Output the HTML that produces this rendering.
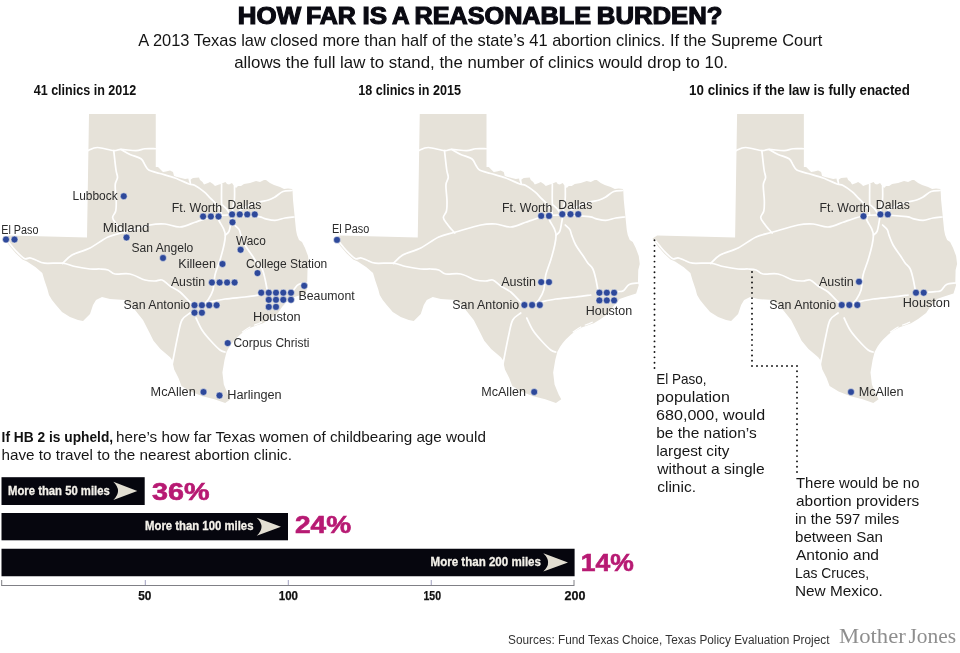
<!DOCTYPE html>
<html><head><meta charset="utf-8">
<style>
html,body{margin:0;padding:0;background:#fff;}
body{width:960px;height:653px;overflow:hidden;position:relative;}
svg{position:absolute;left:0;top:0;will-change:transform;}
</style></head><body>
<svg width="960" height="653" viewBox="0 0 960 653">
<g transform="translate(0,0)">
<path d="M89,114 L155.75,114 L155.75,167 L158,167 L160,169 L163,172 L166,171.5 L170,170.5 L173,172 L174,176 L177,177 L181,178 L185,179 L188.5,178.5 L189,182 L190,180 L193,178 L199,177.5 L200,180 L202.5,182 L204,184.5 L208,183 L210,182 L213,184 L215,186 L219,184.5 L221,184 L223,183 L225.5,182 L227,184 L229,184.5 L232,183 L234,186 L236,188 L238,186 L241,186 L244,184 L250,183 L256,181 L260,182 L264,180 L266,180 L270,183 L274,185 L280,187 L284,189 L288,188.5 L292,189 L292.5,190 L293,200 L294.5,215 L296,230 L297,235 L299,240 L302,242 L305,248 L308,256 L309,264 L307.5,270 L307.2,283 L308,285 L306.5,290 L305.4,293.5 L296,296.5 L288.8,299 L287,301.5 L282,307 L278,313 L270,319 L263,323.3 L251.5,327.2 L244.6,331 L240,334.8 L235,339.5 L232,343 L229.5,346.5 L226.6,351.7 L224.5,360 L222.4,372.4 L223.8,384.5 L227.9,394.4 L230.5,399.2 L225.2,403 L214.5,399.2 L202.5,396.3 L190.5,391.5 L181.5,386 L178.5,378 L174.2,369.6 L172.1,360 L170.1,357.2 L160.4,348.9 L153.5,340.7 L149.4,332.4 L143,320 L135,310 L125,300 L110,299 L102,297 L96,300 L93,305 L90,314 L83,321 L78,320 L70,317 L62,312 L56,305 L52,300 L49,295 L47.4,289 L44.5,280.4 L42.3,273 L35.7,267.3 L27,261.5 L22.5,259.5 L16,253.5 L10,246.5 L4.5,238.5 L9,235.5 L87,237.5 L89,114Z" fill="#e6e2d9"/>
<path d="M88,150.6 C89.58,150.08 93.21,147.50 97.5,147.5 C101.79,147.50 109.83,150.28 113.75,150.6 C117.67,150.92 117.29,149.40 121,149.4 C124.71,149.40 132.00,150.71 136,150.6 C140.00,150.49 141.71,149.06 145,148.75 C148.29,148.44 153.96,148.75 155.75,148.75" fill="none" stroke="#fff" stroke-width="1.7" stroke-linejoin="round" stroke-linecap="round"/>
<path d="M113.75,150.6 C114.12,153.83 115.38,165.52 116,170 C116.62,174.48 117.63,175.00 117.5,177.5 C117.37,180.00 115.41,181.12 115.2,185 C114.99,188.88 116.17,196.47 116.25,200.8 C116.33,205.13 116.31,208.22 115.7,211 C115.09,213.78 112.51,215.38 112.6,217.5 C112.69,219.62 114.95,221.83 116.25,223.75 C117.55,225.67 119.11,227.46 120.4,229 C121.69,230.54 123.40,232.33 124,233" fill="none" stroke="#fff" stroke-width="1.7" stroke-linejoin="round" stroke-linecap="round"/>
<path d="M121,149.4 C122.50,150.23 126.67,152.84 130,154.4 C133.33,155.96 138.50,156.98 141,158.75 C143.50,160.52 143.71,163.12 145,165 C146.29,166.88 146.25,168.58 148.75,170 C151.25,171.42 155.62,172.17 160,173.5 C164.38,174.83 170.17,176.25 175,178 C179.83,179.75 185.67,182.75 189,184 C192.33,185.25 192.47,184.18 195,185.5 C197.53,186.82 201.60,189.75 204.2,191.9 C206.80,194.05 208.62,196.40 210.6,198.4 C212.58,200.40 214.42,201.92 216.1,203.9 C217.78,205.88 219.80,208.45 220.7,210.3 C221.60,212.15 221.37,214.22 221.5,215" fill="none" stroke="#fff" stroke-width="1.7" stroke-linejoin="round" stroke-linecap="round"/>
<path d="M189.5,178.5 L190.5,184.2" fill="none" stroke="#fff" stroke-width="1.7" stroke-linejoin="round" stroke-linecap="round"/>
<path d="M6.6,239.6 C7.57,240.82 10.45,244.60 12.4,246.9 C14.35,249.20 16.23,251.42 18.3,253.4 C20.37,255.38 22.87,258.07 24.8,258.8 C26.73,259.53 28.07,257.60 29.9,257.8 C31.72,258.00 33.32,259.10 35.75,260 C38.18,260.90 40.04,262.67 44.5,263.2 C48.96,263.73 57.42,262.65 62.5,263.2 C67.58,263.75 70.42,265.53 75,266.5 C79.58,267.47 85.83,268.58 90,269 C94.17,269.42 97.00,268.83 100,269 C103.00,269.17 105.50,269.17 108,270 C110.50,270.83 111.33,273.33 115,274 C118.67,274.67 125.00,273.00 130,274 C135.00,275.00 140.83,278.83 145,280 C149.17,281.17 152.17,281.00 155,281 C157.83,281.00 159.50,279.17 162,280 C164.50,280.83 167.00,284.00 170,286 C173.00,288.00 176.67,289.33 180,292 C183.33,294.67 187.33,299.67 190,302 C192.67,304.33 195.00,305.33 196,306" fill="none" stroke="#fff" stroke-width="1.7" stroke-linejoin="round" stroke-linecap="round"/>
<path d="M62.5,263.5 C64.08,262.08 67.42,257.58 72,255 C76.58,252.42 84.00,251.00 90,248 C96.00,245.00 102.17,239.67 108,237 C113.83,234.33 118.00,234.00 125,232 C132.00,230.00 143.33,226.33 150,225 C156.67,223.67 160.00,223.67 165,224 C170.00,224.33 175.00,227.30 180,227 C185.00,226.70 191.58,223.30 195,222.2 C198.42,221.10 197.17,221.43 200.5,220.4 C203.83,219.37 209.75,216.90 215,216 C220.25,215.10 224.77,214.88 232,215 C239.23,215.12 252.93,216.10 258.4,216.7 C263.87,217.30 262.03,217.98 264.8,218.6 C267.57,219.22 271.63,220.50 275,220.4 C278.37,220.30 281.83,218.57 285,218 C288.17,217.43 292.50,217.17 294,217" fill="none" stroke="#fff" stroke-width="1.7" stroke-linejoin="round" stroke-linecap="round"/>
<path d="M221.6,184 C221.60,187.17 221.37,199.42 221.6,203 C221.83,206.58 222.10,204.43 223,205.5 C223.90,206.57 225.83,207.98 227,209.4 C228.17,210.82 229.50,213.23 230,214" fill="none" stroke="#fff" stroke-width="1.7" stroke-linejoin="round" stroke-linecap="round"/>
<path d="M234.5,186 C234.50,188.07 234.75,194.90 234.5,198.4 C234.25,201.90 233.35,204.73 233,207 C232.65,209.27 232.50,211.17 232.4,212" fill="none" stroke="#fff" stroke-width="1.7" stroke-linejoin="round" stroke-linecap="round"/>
<path d="M240,210 C241.67,209.17 246.78,206.33 250,205 C253.22,203.67 256.22,202.83 259.3,202 C262.38,201.17 265.88,200.83 268.5,200 C271.12,199.17 272.58,198.42 275,197 C277.42,195.58 280.17,192.58 283,191.5 C285.83,190.42 290.50,190.67 292,190.5" fill="none" stroke="#fff" stroke-width="1.7" stroke-linejoin="round" stroke-linecap="round"/>
<path d="M218.9,216 C218.90,216.73 218.13,218.28 218.9,220.4 C219.67,222.52 222.43,226.25 223.5,228.7 C224.57,231.15 225.22,232.38 225.3,235.1 C225.38,237.82 224.88,240.85 224,245 C223.12,249.15 221.50,255.00 220,260 C218.50,265.00 216.17,270.00 215,275 C213.83,280.00 214.17,285.83 213,290 C211.83,294.17 209.67,297.50 208,300 C206.33,302.50 203.83,304.17 203,305" fill="none" stroke="#fff" stroke-width="1.7" stroke-linejoin="round" stroke-linecap="round"/>
<path d="M232,216 C231.80,217.20 231.30,220.63 230.8,223.2 C230.30,225.77 229.92,229.42 229,231.4 C228.08,233.38 225.92,234.48 225.3,235.1" fill="none" stroke="#fff" stroke-width="1.7" stroke-linejoin="round" stroke-linecap="round"/>
<path d="M234.5,225 C235.27,225.77 238.03,227.92 239.1,229.6 C240.17,231.28 239.92,232.53 240.9,235.1 C241.88,237.67 243.07,241.52 245,245 C246.93,248.48 250.50,253.00 252.5,256 C254.50,259.00 255.42,260.88 257,263 C258.58,265.12 260.67,266.12 262,268.75 C263.33,271.38 264.08,274.88 265,278.75 C265.92,282.62 267.08,289.79 267.5,292" fill="none" stroke="#fff" stroke-width="1.7" stroke-linejoin="round" stroke-linecap="round"/>
<path d="M260,295 C257.50,295.33 250.83,296.33 245,297 C239.17,297.67 230.83,298.17 225,299 C219.17,299.83 212.50,301.50 210,302" fill="none" stroke="#fff" stroke-width="1.7" stroke-linejoin="round" stroke-linecap="round"/>
<path d="M280.4,292.2 C281.50,292.10 284.97,291.85 287,291.6 C289.03,291.35 290.68,291.88 292.6,290.7 C294.52,289.52 296.02,285.78 298.5,284.5 C300.98,283.22 306.00,283.25 307.5,283" fill="none" stroke="#fff" stroke-width="1.7" stroke-linejoin="round" stroke-linecap="round"/>
<path d="M196,318 C197.00,320.00 199.67,326.33 202,330 C204.33,333.67 207.00,336.67 210,340 C213.00,343.33 217.50,348.00 220,350 C222.50,352.00 224.17,351.67 225,352" fill="none" stroke="#fff" stroke-width="1.7" stroke-linejoin="round" stroke-linecap="round"/>
<path d="M190,313 C188.67,314.17 184.00,316.33 182,320 C180.00,323.67 179.50,328.33 178,335 C176.50,341.67 174.17,354.17 173,360 C171.83,365.83 171.33,368.33 171,370" fill="none" stroke="#fff" stroke-width="1.7" stroke-linejoin="round" stroke-linecap="round"/>
<path d="M242,332.2 L247.5,328.6 L250.5,326.8 M254,325.2 L258.5,323.6 L262,322" fill="none" stroke="#fff" stroke-width="1.2"/>
</g>
<g transform="translate(330.75,0)">
<path d="M89,114 L155.75,114 L155.75,167 L158,167 L160,169 L163,172 L166,171.5 L170,170.5 L173,172 L174,176 L177,177 L181,178 L185,179 L188.5,178.5 L189,182 L190,180 L193,178 L199,177.5 L200,180 L202.5,182 L204,184.5 L208,183 L210,182 L213,184 L215,186 L219,184.5 L221,184 L223,183 L225.5,182 L227,184 L229,184.5 L232,183 L234,186 L236,188 L238,186 L241,186 L244,184 L250,183 L256,181 L260,182 L264,180 L266,180 L270,183 L274,185 L280,187 L284,189 L288,188.5 L292,189 L292.5,190 L293,200 L294.5,215 L296,230 L297,235 L299,240 L302,242 L305,248 L308,256 L309,264 L307.5,270 L307.2,283 L308,285 L306.5,290 L305.4,293.5 L296,296.5 L288.8,299 L287,301.5 L282,307 L278,313 L270,319 L263,323.3 L251.5,327.2 L244.6,331 L240,334.8 L235,339.5 L232,343 L229.5,346.5 L226.6,351.7 L224.5,360 L222.4,372.4 L223.8,384.5 L227.9,394.4 L230.5,399.2 L225.2,403 L214.5,399.2 L202.5,396.3 L190.5,391.5 L181.5,386 L178.5,378 L174.2,369.6 L172.1,360 L170.1,357.2 L160.4,348.9 L153.5,340.7 L149.4,332.4 L143,320 L135,310 L125,300 L110,299 L102,297 L96,300 L93,305 L90,314 L83,321 L78,320 L70,317 L62,312 L56,305 L52,300 L49,295 L47.4,289 L44.5,280.4 L42.3,273 L35.7,267.3 L27,261.5 L22.5,259.5 L16,253.5 L10,246.5 L4.5,238.5 L9,235.5 L87,237.5 L89,114Z" fill="#e6e2d9"/>
<path d="M88,150.6 C89.58,150.08 93.21,147.50 97.5,147.5 C101.79,147.50 109.83,150.28 113.75,150.6 C117.67,150.92 117.29,149.40 121,149.4 C124.71,149.40 132.00,150.71 136,150.6 C140.00,150.49 141.71,149.06 145,148.75 C148.29,148.44 153.96,148.75 155.75,148.75" fill="none" stroke="#fff" stroke-width="1.7" stroke-linejoin="round" stroke-linecap="round"/>
<path d="M113.75,150.6 C114.12,153.83 115.38,165.52 116,170 C116.62,174.48 117.63,175.00 117.5,177.5 C117.37,180.00 115.41,181.12 115.2,185 C114.99,188.88 116.17,196.47 116.25,200.8 C116.33,205.13 116.31,208.22 115.7,211 C115.09,213.78 112.51,215.38 112.6,217.5 C112.69,219.62 114.95,221.83 116.25,223.75 C117.55,225.67 119.11,227.46 120.4,229 C121.69,230.54 123.40,232.33 124,233" fill="none" stroke="#fff" stroke-width="1.7" stroke-linejoin="round" stroke-linecap="round"/>
<path d="M121,149.4 C122.50,150.23 126.67,152.84 130,154.4 C133.33,155.96 138.50,156.98 141,158.75 C143.50,160.52 143.71,163.12 145,165 C146.29,166.88 146.25,168.58 148.75,170 C151.25,171.42 155.62,172.17 160,173.5 C164.38,174.83 170.17,176.25 175,178 C179.83,179.75 185.67,182.75 189,184 C192.33,185.25 192.47,184.18 195,185.5 C197.53,186.82 201.60,189.75 204.2,191.9 C206.80,194.05 208.62,196.40 210.6,198.4 C212.58,200.40 214.42,201.92 216.1,203.9 C217.78,205.88 219.80,208.45 220.7,210.3 C221.60,212.15 221.37,214.22 221.5,215" fill="none" stroke="#fff" stroke-width="1.7" stroke-linejoin="round" stroke-linecap="round"/>
<path d="M189.5,178.5 L190.5,184.2" fill="none" stroke="#fff" stroke-width="1.7" stroke-linejoin="round" stroke-linecap="round"/>
<path d="M6.6,239.6 C7.57,240.82 10.45,244.60 12.4,246.9 C14.35,249.20 16.23,251.42 18.3,253.4 C20.37,255.38 22.87,258.07 24.8,258.8 C26.73,259.53 28.07,257.60 29.9,257.8 C31.72,258.00 33.32,259.10 35.75,260 C38.18,260.90 40.04,262.67 44.5,263.2 C48.96,263.73 57.42,262.65 62.5,263.2 C67.58,263.75 70.42,265.53 75,266.5 C79.58,267.47 85.83,268.58 90,269 C94.17,269.42 97.00,268.83 100,269 C103.00,269.17 105.50,269.17 108,270 C110.50,270.83 111.33,273.33 115,274 C118.67,274.67 125.00,273.00 130,274 C135.00,275.00 140.83,278.83 145,280 C149.17,281.17 152.17,281.00 155,281 C157.83,281.00 159.50,279.17 162,280 C164.50,280.83 167.00,284.00 170,286 C173.00,288.00 176.67,289.33 180,292 C183.33,294.67 187.33,299.67 190,302 C192.67,304.33 195.00,305.33 196,306" fill="none" stroke="#fff" stroke-width="1.7" stroke-linejoin="round" stroke-linecap="round"/>
<path d="M62.5,263.5 C64.08,262.08 67.42,257.58 72,255 C76.58,252.42 84.00,251.00 90,248 C96.00,245.00 102.17,239.67 108,237 C113.83,234.33 118.00,234.00 125,232 C132.00,230.00 143.33,226.33 150,225 C156.67,223.67 160.00,223.67 165,224 C170.00,224.33 175.00,227.30 180,227 C185.00,226.70 191.58,223.30 195,222.2 C198.42,221.10 197.17,221.43 200.5,220.4 C203.83,219.37 209.75,216.90 215,216 C220.25,215.10 224.77,214.88 232,215 C239.23,215.12 252.93,216.10 258.4,216.7 C263.87,217.30 262.03,217.98 264.8,218.6 C267.57,219.22 271.63,220.50 275,220.4 C278.37,220.30 281.83,218.57 285,218 C288.17,217.43 292.50,217.17 294,217" fill="none" stroke="#fff" stroke-width="1.7" stroke-linejoin="round" stroke-linecap="round"/>
<path d="M221.6,184 C221.60,187.17 221.37,199.42 221.6,203 C221.83,206.58 222.10,204.43 223,205.5 C223.90,206.57 225.83,207.98 227,209.4 C228.17,210.82 229.50,213.23 230,214" fill="none" stroke="#fff" stroke-width="1.7" stroke-linejoin="round" stroke-linecap="round"/>
<path d="M234.5,186 C234.50,188.07 234.75,194.90 234.5,198.4 C234.25,201.90 233.35,204.73 233,207 C232.65,209.27 232.50,211.17 232.4,212" fill="none" stroke="#fff" stroke-width="1.7" stroke-linejoin="round" stroke-linecap="round"/>
<path d="M240,210 C241.67,209.17 246.78,206.33 250,205 C253.22,203.67 256.22,202.83 259.3,202 C262.38,201.17 265.88,200.83 268.5,200 C271.12,199.17 272.58,198.42 275,197 C277.42,195.58 280.17,192.58 283,191.5 C285.83,190.42 290.50,190.67 292,190.5" fill="none" stroke="#fff" stroke-width="1.7" stroke-linejoin="round" stroke-linecap="round"/>
<path d="M218.9,216 C218.90,216.73 218.13,218.28 218.9,220.4 C219.67,222.52 222.43,226.25 223.5,228.7 C224.57,231.15 225.22,232.38 225.3,235.1 C225.38,237.82 224.88,240.85 224,245 C223.12,249.15 221.50,255.00 220,260 C218.50,265.00 216.17,270.00 215,275 C213.83,280.00 214.17,285.83 213,290 C211.83,294.17 209.67,297.50 208,300 C206.33,302.50 203.83,304.17 203,305" fill="none" stroke="#fff" stroke-width="1.7" stroke-linejoin="round" stroke-linecap="round"/>
<path d="M232,216 C231.80,217.20 231.30,220.63 230.8,223.2 C230.30,225.77 229.92,229.42 229,231.4 C228.08,233.38 225.92,234.48 225.3,235.1" fill="none" stroke="#fff" stroke-width="1.7" stroke-linejoin="round" stroke-linecap="round"/>
<path d="M234.5,225 C235.27,225.77 238.03,227.92 239.1,229.6 C240.17,231.28 239.92,232.53 240.9,235.1 C241.88,237.67 243.07,241.52 245,245 C246.93,248.48 250.50,253.00 252.5,256 C254.50,259.00 255.42,260.88 257,263 C258.58,265.12 260.67,266.12 262,268.75 C263.33,271.38 264.08,274.88 265,278.75 C265.92,282.62 267.08,289.79 267.5,292" fill="none" stroke="#fff" stroke-width="1.7" stroke-linejoin="round" stroke-linecap="round"/>
<path d="M260,295 C257.50,295.33 250.83,296.33 245,297 C239.17,297.67 230.83,298.17 225,299 C219.17,299.83 212.50,301.50 210,302" fill="none" stroke="#fff" stroke-width="1.7" stroke-linejoin="round" stroke-linecap="round"/>
<path d="M280.4,292.2 C281.50,292.10 284.97,291.85 287,291.6 C289.03,291.35 290.68,291.88 292.6,290.7 C294.52,289.52 296.02,285.78 298.5,284.5 C300.98,283.22 306.00,283.25 307.5,283" fill="none" stroke="#fff" stroke-width="1.7" stroke-linejoin="round" stroke-linecap="round"/>
<path d="M196,318 C197.00,320.00 199.67,326.33 202,330 C204.33,333.67 207.00,336.67 210,340 C213.00,343.33 217.50,348.00 220,350 C222.50,352.00 224.17,351.67 225,352" fill="none" stroke="#fff" stroke-width="1.7" stroke-linejoin="round" stroke-linecap="round"/>
<path d="M190,313 C188.67,314.17 184.00,316.33 182,320 C180.00,323.67 179.50,328.33 178,335 C176.50,341.67 174.17,354.17 173,360 C171.83,365.83 171.33,368.33 171,370" fill="none" stroke="#fff" stroke-width="1.7" stroke-linejoin="round" stroke-linecap="round"/>
<path d="M242,332.2 L247.5,328.6 L250.5,326.8 M254,325.2 L258.5,323.6 L262,322" fill="none" stroke="#fff" stroke-width="1.2"/>
</g>
<g transform="translate(648.1,0)">
<path d="M89,114 L155.75,114 L155.75,167 L158,167 L160,169 L163,172 L166,171.5 L170,170.5 L173,172 L174,176 L177,177 L181,178 L185,179 L188.5,178.5 L189,182 L190,180 L193,178 L199,177.5 L200,180 L202.5,182 L204,184.5 L208,183 L210,182 L213,184 L215,186 L219,184.5 L221,184 L223,183 L225.5,182 L227,184 L229,184.5 L232,183 L234,186 L236,188 L238,186 L241,186 L244,184 L250,183 L256,181 L260,182 L264,180 L266,180 L270,183 L274,185 L280,187 L284,189 L288,188.5 L292,189 L292.5,190 L293,200 L294.5,215 L296,230 L297,235 L299,240 L302,242 L305,248 L308,256 L309,264 L307.5,270 L307.2,283 L308,285 L306.5,290 L305.4,293.5 L296,296.5 L288.8,299 L287,301.5 L282,307 L278,313 L270,319 L263,323.3 L251.5,327.2 L244.6,331 L240,334.8 L235,339.5 L232,343 L229.5,346.5 L226.6,351.7 L224.5,360 L222.4,372.4 L223.8,384.5 L227.9,394.4 L230.5,399.2 L225.2,403 L214.5,399.2 L202.5,396.3 L190.5,391.5 L181.5,386 L178.5,378 L174.2,369.6 L172.1,360 L170.1,357.2 L160.4,348.9 L153.5,340.7 L149.4,332.4 L143,320 L135,310 L125,300 L110,299 L102,297 L96,300 L93,305 L90,314 L83,321 L78,320 L70,317 L62,312 L56,305 L52,300 L49,295 L47.4,289 L44.5,280.4 L42.3,273 L35.7,267.3 L27,261.5 L22.5,259.5 L16,253.5 L10,246.5 L4.5,238.5 L9,235.5 L87,237.5 L89,114Z" fill="#e6e2d9"/>
<path d="M88,150.6 C89.58,150.08 93.21,147.50 97.5,147.5 C101.79,147.50 109.83,150.28 113.75,150.6 C117.67,150.92 117.29,149.40 121,149.4 C124.71,149.40 132.00,150.71 136,150.6 C140.00,150.49 141.71,149.06 145,148.75 C148.29,148.44 153.96,148.75 155.75,148.75" fill="none" stroke="#fff" stroke-width="1.7" stroke-linejoin="round" stroke-linecap="round"/>
<path d="M113.75,150.6 C114.12,153.83 115.38,165.52 116,170 C116.62,174.48 117.63,175.00 117.5,177.5 C117.37,180.00 115.41,181.12 115.2,185 C114.99,188.88 116.17,196.47 116.25,200.8 C116.33,205.13 116.31,208.22 115.7,211 C115.09,213.78 112.51,215.38 112.6,217.5 C112.69,219.62 114.95,221.83 116.25,223.75 C117.55,225.67 119.11,227.46 120.4,229 C121.69,230.54 123.40,232.33 124,233" fill="none" stroke="#fff" stroke-width="1.7" stroke-linejoin="round" stroke-linecap="round"/>
<path d="M121,149.4 C122.50,150.23 126.67,152.84 130,154.4 C133.33,155.96 138.50,156.98 141,158.75 C143.50,160.52 143.71,163.12 145,165 C146.29,166.88 146.25,168.58 148.75,170 C151.25,171.42 155.62,172.17 160,173.5 C164.38,174.83 170.17,176.25 175,178 C179.83,179.75 185.67,182.75 189,184 C192.33,185.25 192.47,184.18 195,185.5 C197.53,186.82 201.60,189.75 204.2,191.9 C206.80,194.05 208.62,196.40 210.6,198.4 C212.58,200.40 214.42,201.92 216.1,203.9 C217.78,205.88 219.80,208.45 220.7,210.3 C221.60,212.15 221.37,214.22 221.5,215" fill="none" stroke="#fff" stroke-width="1.7" stroke-linejoin="round" stroke-linecap="round"/>
<path d="M189.5,178.5 L190.5,184.2" fill="none" stroke="#fff" stroke-width="1.7" stroke-linejoin="round" stroke-linecap="round"/>
<path d="M6.6,239.6 C7.57,240.82 10.45,244.60 12.4,246.9 C14.35,249.20 16.23,251.42 18.3,253.4 C20.37,255.38 22.87,258.07 24.8,258.8 C26.73,259.53 28.07,257.60 29.9,257.8 C31.72,258.00 33.32,259.10 35.75,260 C38.18,260.90 40.04,262.67 44.5,263.2 C48.96,263.73 57.42,262.65 62.5,263.2 C67.58,263.75 70.42,265.53 75,266.5 C79.58,267.47 85.83,268.58 90,269 C94.17,269.42 97.00,268.83 100,269 C103.00,269.17 105.50,269.17 108,270 C110.50,270.83 111.33,273.33 115,274 C118.67,274.67 125.00,273.00 130,274 C135.00,275.00 140.83,278.83 145,280 C149.17,281.17 152.17,281.00 155,281 C157.83,281.00 159.50,279.17 162,280 C164.50,280.83 167.00,284.00 170,286 C173.00,288.00 176.67,289.33 180,292 C183.33,294.67 187.33,299.67 190,302 C192.67,304.33 195.00,305.33 196,306" fill="none" stroke="#fff" stroke-width="1.7" stroke-linejoin="round" stroke-linecap="round"/>
<path d="M62.5,263.5 C64.08,262.08 67.42,257.58 72,255 C76.58,252.42 84.00,251.00 90,248 C96.00,245.00 102.17,239.67 108,237 C113.83,234.33 118.00,234.00 125,232 C132.00,230.00 143.33,226.33 150,225 C156.67,223.67 160.00,223.67 165,224 C170.00,224.33 175.00,227.30 180,227 C185.00,226.70 191.58,223.30 195,222.2 C198.42,221.10 197.17,221.43 200.5,220.4 C203.83,219.37 209.75,216.90 215,216 C220.25,215.10 224.77,214.88 232,215 C239.23,215.12 252.93,216.10 258.4,216.7 C263.87,217.30 262.03,217.98 264.8,218.6 C267.57,219.22 271.63,220.50 275,220.4 C278.37,220.30 281.83,218.57 285,218 C288.17,217.43 292.50,217.17 294,217" fill="none" stroke="#fff" stroke-width="1.7" stroke-linejoin="round" stroke-linecap="round"/>
<path d="M221.6,184 C221.60,187.17 221.37,199.42 221.6,203 C221.83,206.58 222.10,204.43 223,205.5 C223.90,206.57 225.83,207.98 227,209.4 C228.17,210.82 229.50,213.23 230,214" fill="none" stroke="#fff" stroke-width="1.7" stroke-linejoin="round" stroke-linecap="round"/>
<path d="M234.5,186 C234.50,188.07 234.75,194.90 234.5,198.4 C234.25,201.90 233.35,204.73 233,207 C232.65,209.27 232.50,211.17 232.4,212" fill="none" stroke="#fff" stroke-width="1.7" stroke-linejoin="round" stroke-linecap="round"/>
<path d="M240,210 C241.67,209.17 246.78,206.33 250,205 C253.22,203.67 256.22,202.83 259.3,202 C262.38,201.17 265.88,200.83 268.5,200 C271.12,199.17 272.58,198.42 275,197 C277.42,195.58 280.17,192.58 283,191.5 C285.83,190.42 290.50,190.67 292,190.5" fill="none" stroke="#fff" stroke-width="1.7" stroke-linejoin="round" stroke-linecap="round"/>
<path d="M218.9,216 C218.90,216.73 218.13,218.28 218.9,220.4 C219.67,222.52 222.43,226.25 223.5,228.7 C224.57,231.15 225.22,232.38 225.3,235.1 C225.38,237.82 224.88,240.85 224,245 C223.12,249.15 221.50,255.00 220,260 C218.50,265.00 216.17,270.00 215,275 C213.83,280.00 214.17,285.83 213,290 C211.83,294.17 209.67,297.50 208,300 C206.33,302.50 203.83,304.17 203,305" fill="none" stroke="#fff" stroke-width="1.7" stroke-linejoin="round" stroke-linecap="round"/>
<path d="M232,216 C231.80,217.20 231.30,220.63 230.8,223.2 C230.30,225.77 229.92,229.42 229,231.4 C228.08,233.38 225.92,234.48 225.3,235.1" fill="none" stroke="#fff" stroke-width="1.7" stroke-linejoin="round" stroke-linecap="round"/>
<path d="M234.5,225 C235.27,225.77 238.03,227.92 239.1,229.6 C240.17,231.28 239.92,232.53 240.9,235.1 C241.88,237.67 243.07,241.52 245,245 C246.93,248.48 250.50,253.00 252.5,256 C254.50,259.00 255.42,260.88 257,263 C258.58,265.12 260.67,266.12 262,268.75 C263.33,271.38 264.08,274.88 265,278.75 C265.92,282.62 267.08,289.79 267.5,292" fill="none" stroke="#fff" stroke-width="1.7" stroke-linejoin="round" stroke-linecap="round"/>
<path d="M260,295 C257.50,295.33 250.83,296.33 245,297 C239.17,297.67 230.83,298.17 225,299 C219.17,299.83 212.50,301.50 210,302" fill="none" stroke="#fff" stroke-width="1.7" stroke-linejoin="round" stroke-linecap="round"/>
<path d="M280.4,292.2 C281.50,292.10 284.97,291.85 287,291.6 C289.03,291.35 290.68,291.88 292.6,290.7 C294.52,289.52 296.02,285.78 298.5,284.5 C300.98,283.22 306.00,283.25 307.5,283" fill="none" stroke="#fff" stroke-width="1.7" stroke-linejoin="round" stroke-linecap="round"/>
<path d="M196,318 C197.00,320.00 199.67,326.33 202,330 C204.33,333.67 207.00,336.67 210,340 C213.00,343.33 217.50,348.00 220,350 C222.50,352.00 224.17,351.67 225,352" fill="none" stroke="#fff" stroke-width="1.7" stroke-linejoin="round" stroke-linecap="round"/>
<path d="M190,313 C188.67,314.17 184.00,316.33 182,320 C180.00,323.67 179.50,328.33 178,335 C176.50,341.67 174.17,354.17 173,360 C171.83,365.83 171.33,368.33 171,370" fill="none" stroke="#fff" stroke-width="1.7" stroke-linejoin="round" stroke-linecap="round"/>
<path d="M242,332.2 L247.5,328.6 L250.5,326.8 M254,325.2 L258.5,323.6 L262,322" fill="none" stroke="#fff" stroke-width="1.2"/>
</g>
<circle cx="6" cy="239.5" r="3.45" fill="#2e499b" stroke="#fafaf6" stroke-width="0.5"/>
<circle cx="14.5" cy="239.5" r="3.45" fill="#2e499b" stroke="#fafaf6" stroke-width="0.5"/>
<circle cx="123.75" cy="196.25" r="3.45" fill="#2e499b" stroke="#fafaf6" stroke-width="0.5"/>
<circle cx="126.5" cy="237.5" r="3.45" fill="#2e499b" stroke="#fafaf6" stroke-width="0.5"/>
<circle cx="163" cy="258" r="3.45" fill="#2e499b" stroke="#fafaf6" stroke-width="0.5"/>
<circle cx="203.1" cy="216.5" r="3.45" fill="#2e499b" stroke="#fafaf6" stroke-width="0.5"/>
<circle cx="210.9" cy="216.5" r="3.45" fill="#2e499b" stroke="#fafaf6" stroke-width="0.5"/>
<circle cx="218.5" cy="216.5" r="3.45" fill="#2e499b" stroke="#fafaf6" stroke-width="0.5"/>
<circle cx="232.1" cy="214.4" r="3.45" fill="#2e499b" stroke="#fafaf6" stroke-width="0.5"/>
<circle cx="239.75" cy="214.4" r="3.45" fill="#2e499b" stroke="#fafaf6" stroke-width="0.5"/>
<circle cx="247.25" cy="214.4" r="3.45" fill="#2e499b" stroke="#fafaf6" stroke-width="0.5"/>
<circle cx="254.75" cy="214.4" r="3.45" fill="#2e499b" stroke="#fafaf6" stroke-width="0.5"/>
<circle cx="232.5" cy="222.3" r="3.45" fill="#2e499b" stroke="#fafaf6" stroke-width="0.5"/>
<circle cx="240.6" cy="249.75" r="3.45" fill="#2e499b" stroke="#fafaf6" stroke-width="0.5"/>
<circle cx="222.5" cy="264" r="3.45" fill="#2e499b" stroke="#fafaf6" stroke-width="0.5"/>
<circle cx="257.5" cy="273.1" r="3.45" fill="#2e499b" stroke="#fafaf6" stroke-width="0.5"/>
<circle cx="211.9" cy="282.5" r="3.45" fill="#2e499b" stroke="#fafaf6" stroke-width="0.5"/>
<circle cx="219.6" cy="282.5" r="3.45" fill="#2e499b" stroke="#fafaf6" stroke-width="0.5"/>
<circle cx="227.1" cy="282.5" r="3.45" fill="#2e499b" stroke="#fafaf6" stroke-width="0.5"/>
<circle cx="234.6" cy="282.5" r="3.45" fill="#2e499b" stroke="#fafaf6" stroke-width="0.5"/>
<circle cx="261.25" cy="292.7" r="3.45" fill="#2e499b" stroke="#fafaf6" stroke-width="0.5"/>
<circle cx="268.75" cy="292.7" r="3.45" fill="#2e499b" stroke="#fafaf6" stroke-width="0.5"/>
<circle cx="276" cy="292.7" r="3.45" fill="#2e499b" stroke="#fafaf6" stroke-width="0.5"/>
<circle cx="283.3" cy="292.7" r="3.45" fill="#2e499b" stroke="#fafaf6" stroke-width="0.5"/>
<circle cx="291" cy="292.7" r="3.45" fill="#2e499b" stroke="#fafaf6" stroke-width="0.5"/>
<circle cx="268.75" cy="299.8" r="3.45" fill="#2e499b" stroke="#fafaf6" stroke-width="0.5"/>
<circle cx="276" cy="299.8" r="3.45" fill="#2e499b" stroke="#fafaf6" stroke-width="0.5"/>
<circle cx="283.3" cy="299.8" r="3.45" fill="#2e499b" stroke="#fafaf6" stroke-width="0.5"/>
<circle cx="291" cy="299.8" r="3.45" fill="#2e499b" stroke="#fafaf6" stroke-width="0.5"/>
<circle cx="268.75" cy="306.9" r="3.45" fill="#2e499b" stroke="#fafaf6" stroke-width="0.5"/>
<circle cx="276" cy="306.9" r="3.45" fill="#2e499b" stroke="#fafaf6" stroke-width="0.5"/>
<circle cx="304.2" cy="285.8" r="3.45" fill="#2e499b" stroke="#fafaf6" stroke-width="0.5"/>
<circle cx="194.5" cy="305.2" r="3.45" fill="#2e499b" stroke="#fafaf6" stroke-width="0.5"/>
<circle cx="201.9" cy="305.2" r="3.45" fill="#2e499b" stroke="#fafaf6" stroke-width="0.5"/>
<circle cx="209.2" cy="305.2" r="3.45" fill="#2e499b" stroke="#fafaf6" stroke-width="0.5"/>
<circle cx="216.6" cy="305.2" r="3.45" fill="#2e499b" stroke="#fafaf6" stroke-width="0.5"/>
<circle cx="194.5" cy="312.7" r="3.45" fill="#2e499b" stroke="#fafaf6" stroke-width="0.5"/>
<circle cx="201.9" cy="312.7" r="3.45" fill="#2e499b" stroke="#fafaf6" stroke-width="0.5"/>
<circle cx="227.7" cy="343.1" r="3.45" fill="#2e499b" stroke="#fafaf6" stroke-width="0.5"/>
<circle cx="203.5" cy="392" r="3.45" fill="#2e499b" stroke="#fafaf6" stroke-width="0.5"/>
<circle cx="219.5" cy="395.5" r="3.45" fill="#2e499b" stroke="#fafaf6" stroke-width="0.5"/>
<circle cx="337" cy="239.9" r="3.45" fill="#2e499b" stroke="#fafaf6" stroke-width="0.5"/>
<circle cx="541.2" cy="215.9" r="3.45" fill="#2e499b" stroke="#fafaf6" stroke-width="0.5"/>
<circle cx="549" cy="215.9" r="3.45" fill="#2e499b" stroke="#fafaf6" stroke-width="0.5"/>
<circle cx="562.3" cy="214.2" r="3.45" fill="#2e499b" stroke="#fafaf6" stroke-width="0.5"/>
<circle cx="570.5" cy="214.2" r="3.45" fill="#2e499b" stroke="#fafaf6" stroke-width="0.5"/>
<circle cx="578.2" cy="214.2" r="3.45" fill="#2e499b" stroke="#fafaf6" stroke-width="0.5"/>
<circle cx="541.2" cy="282.1" r="3.45" fill="#2e499b" stroke="#fafaf6" stroke-width="0.5"/>
<circle cx="549" cy="282.1" r="3.45" fill="#2e499b" stroke="#fafaf6" stroke-width="0.5"/>
<circle cx="524.4" cy="305" r="3.45" fill="#2e499b" stroke="#fafaf6" stroke-width="0.5"/>
<circle cx="532.1" cy="305" r="3.45" fill="#2e499b" stroke="#fafaf6" stroke-width="0.5"/>
<circle cx="539.8" cy="305" r="3.45" fill="#2e499b" stroke="#fafaf6" stroke-width="0.5"/>
<circle cx="599.4" cy="292.7" r="3.45" fill="#2e499b" stroke="#fafaf6" stroke-width="0.5"/>
<circle cx="606.8" cy="292.7" r="3.45" fill="#2e499b" stroke="#fafaf6" stroke-width="0.5"/>
<circle cx="614.1" cy="292.7" r="3.45" fill="#2e499b" stroke="#fafaf6" stroke-width="0.5"/>
<circle cx="599.4" cy="300.4" r="3.45" fill="#2e499b" stroke="#fafaf6" stroke-width="0.5"/>
<circle cx="606.8" cy="300.4" r="3.45" fill="#2e499b" stroke="#fafaf6" stroke-width="0.5"/>
<circle cx="614.1" cy="300.4" r="3.45" fill="#2e499b" stroke="#fafaf6" stroke-width="0.5"/>
<circle cx="534.2" cy="392" r="3.45" fill="#2e499b" stroke="#fafaf6" stroke-width="0.5"/>
<circle cx="859" cy="281.7" r="3.45" fill="#2e499b" stroke="#fafaf6" stroke-width="0.5"/>
<circle cx="841.7" cy="305" r="3.45" fill="#2e499b" stroke="#fafaf6" stroke-width="0.5"/>
<circle cx="849.3" cy="305" r="3.45" fill="#2e499b" stroke="#fafaf6" stroke-width="0.5"/>
<circle cx="857.3" cy="305" r="3.45" fill="#2e499b" stroke="#fafaf6" stroke-width="0.5"/>
<circle cx="916" cy="292.7" r="3.45" fill="#2e499b" stroke="#fafaf6" stroke-width="0.5"/>
<circle cx="923.7" cy="292.7" r="3.45" fill="#2e499b" stroke="#fafaf6" stroke-width="0.5"/>
<circle cx="851" cy="392" r="3.45" fill="#2e499b" stroke="#fafaf6" stroke-width="0.5"/>
<circle cx="863.5" cy="216.2" r="3.45" fill="#2e499b" stroke="#fafaf6" stroke-width="0.5"/>
<circle cx="880.4" cy="214.4" r="3.45" fill="#2e499b" stroke="#fafaf6" stroke-width="0.5"/>
<circle cx="887.8" cy="214.4" r="3.45" fill="#2e499b" stroke="#fafaf6" stroke-width="0.5"/>
<g fill="#111"><circle cx="654.50" cy="240.30" r="0.95"/><circle cx="654.50" cy="245.62" r="0.95"/><circle cx="654.50" cy="250.94" r="0.95"/><circle cx="654.50" cy="256.26" r="0.95"/><circle cx="654.50" cy="261.58" r="0.95"/><circle cx="654.50" cy="266.90" r="0.95"/><circle cx="654.50" cy="272.23" r="0.95"/><circle cx="654.50" cy="277.55" r="0.95"/><circle cx="654.50" cy="282.87" r="0.95"/><circle cx="654.50" cy="288.19" r="0.95"/><circle cx="654.50" cy="293.51" r="0.95"/><circle cx="654.50" cy="298.83" r="0.95"/><circle cx="654.50" cy="304.15" r="0.95"/><circle cx="654.50" cy="309.47" r="0.95"/><circle cx="654.50" cy="314.79" r="0.95"/><circle cx="654.50" cy="320.11" r="0.95"/><circle cx="654.50" cy="325.43" r="0.95"/><circle cx="654.50" cy="330.75" r="0.95"/><circle cx="654.50" cy="336.07" r="0.95"/><circle cx="654.50" cy="341.40" r="0.95"/><circle cx="654.50" cy="346.72" r="0.95"/><circle cx="654.50" cy="352.04" r="0.95"/><circle cx="654.50" cy="357.36" r="0.95"/><circle cx="654.50" cy="362.68" r="0.95"/><circle cx="654.50" cy="368.00" r="0.95"/><circle cx="752.00" cy="272.00" r="0.95"/><circle cx="752.00" cy="277.22" r="0.95"/><circle cx="752.00" cy="282.44" r="0.95"/><circle cx="752.00" cy="287.67" r="0.95"/><circle cx="752.00" cy="292.89" r="0.95"/><circle cx="752.00" cy="298.11" r="0.95"/><circle cx="752.00" cy="303.33" r="0.95"/><circle cx="752.00" cy="308.56" r="0.95"/><circle cx="752.00" cy="313.78" r="0.95"/><circle cx="752.00" cy="319.00" r="0.95"/><circle cx="752.00" cy="324.22" r="0.95"/><circle cx="752.00" cy="329.44" r="0.95"/><circle cx="752.00" cy="334.67" r="0.95"/><circle cx="752.00" cy="339.89" r="0.95"/><circle cx="752.00" cy="345.11" r="0.95"/><circle cx="752.00" cy="350.33" r="0.95"/><circle cx="752.00" cy="355.56" r="0.95"/><circle cx="752.00" cy="360.78" r="0.95"/><circle cx="752.00" cy="366.00" r="0.95"/><circle cx="757.00" cy="366.00" r="0.95"/><circle cx="762.00" cy="366.00" r="0.95"/><circle cx="767.00" cy="366.00" r="0.95"/><circle cx="772.00" cy="366.00" r="0.95"/><circle cx="777.00" cy="366.00" r="0.95"/><circle cx="782.00" cy="366.00" r="0.95"/><circle cx="787.00" cy="366.00" r="0.95"/><circle cx="792.00" cy="366.00" r="0.95"/><circle cx="797.00" cy="366.00" r="0.95"/><circle cx="797.00" cy="371.30" r="0.95"/><circle cx="797.00" cy="376.60" r="0.95"/><circle cx="797.00" cy="381.90" r="0.95"/><circle cx="797.00" cy="387.20" r="0.95"/><circle cx="797.00" cy="392.50" r="0.95"/><circle cx="797.00" cy="397.80" r="0.95"/><circle cx="797.00" cy="403.10" r="0.95"/><circle cx="797.00" cy="408.40" r="0.95"/><circle cx="797.00" cy="413.70" r="0.95"/><circle cx="797.00" cy="419.00" r="0.95"/><circle cx="797.00" cy="424.30" r="0.95"/><circle cx="797.00" cy="429.60" r="0.95"/><circle cx="797.00" cy="434.90" r="0.95"/><circle cx="797.00" cy="440.20" r="0.95"/><circle cx="797.00" cy="445.50" r="0.95"/><circle cx="797.00" cy="450.80" r="0.95"/><circle cx="797.00" cy="456.10" r="0.95"/><circle cx="797.00" cy="461.40" r="0.95"/><circle cx="797.00" cy="466.70" r="0.95"/><circle cx="797.00" cy="472.00" r="0.95"/></g>
<rect x="1.5" y="477.2" width="143.2" height="27.8" fill="#06060e"/>
<rect x="1.5" y="513" width="286.5" height="27.3" fill="#06060e"/>
<rect x="1.5" y="548.75" width="573.1" height="27.5" fill="#06060e"/>
<g fill="#e3dfd3">
<path d="M113.3,481.8 L137.3,491 L113.3,500 Q122.8,491 113.3,481.8Z"/>
<path d="M256.7,517.7 L281,526.7 L256.7,535.7 Q266.3,526.7 256.7,517.7Z"/>
<path d="M543.3,553.3 L568,562.5 L543.3,571.5 Q553,562.5 543.3,553.3Z"/>
</g>
<path d="M1.7,585.5 H574" stroke="#808086" stroke-width="1" fill="none"/>
<path d="M1.7,580 V586 M574,580 V586" stroke="#808086" stroke-width="1" fill="none"/><path d="M145.3,580 V585 M288.3,580 V585 M431.25,580 V585" stroke="#a0a0c0" stroke-width="1" fill="none"/>
<text x="237.88" y="23.6" textLength="63.25" lengthAdjust="spacingAndGlyphs" font-family='"Liberation Sans", sans-serif' font-size="23" font-weight="bold" fill="#0a0a12" stroke="#0a0a12" stroke-width="1.1">HOW</text>
<text x="305.91" y="23.6" textLength="50.00" lengthAdjust="spacingAndGlyphs" font-family='"Liberation Sans", sans-serif' font-size="23" font-weight="bold" fill="#0a0a12" stroke="#0a0a12" stroke-width="1.1">FAR</text>
<text x="362.62" y="23.6" textLength="24.58" lengthAdjust="spacingAndGlyphs" font-family='"Liberation Sans", sans-serif' font-size="23" font-weight="bold" fill="#0a0a12" stroke="#0a0a12" stroke-width="1.1">IS</text>
<text x="392.00" y="23.6" textLength="17.60" lengthAdjust="spacingAndGlyphs" font-family='"Liberation Sans", sans-serif' font-size="23" font-weight="bold" fill="#0a0a12" stroke="#0a0a12" stroke-width="1.1">A</text>
<text x="414.50" y="23.6" textLength="176.51" lengthAdjust="spacingAndGlyphs" font-family='"Liberation Sans", sans-serif' font-size="23" font-weight="bold" fill="#0a0a12" stroke="#0a0a12" stroke-width="1.1">REASONABLE</text>
<text x="596.88" y="23.6" textLength="125.62" lengthAdjust="spacingAndGlyphs" font-family='"Liberation Sans", sans-serif' font-size="23" font-weight="bold" fill="#0a0a12" stroke="#0a0a12" stroke-width="1.1">BURDEN?</text>
<text x="138.30" y="45.8" textLength="684.01" lengthAdjust="spacingAndGlyphs" font-family='"Liberation Sans", sans-serif' font-size="17" font-weight="normal" fill="#141414" >A 2013 Texas law closed more than half of the state’s 41 abortion clinics. If the Supreme Court</text>
<text x="234.20" y="67.6" textLength="493.79" lengthAdjust="spacingAndGlyphs" font-family='"Liberation Sans", sans-serif' font-size="17" font-weight="normal" fill="#141414" >allows the full law to stand, the number of clinics would drop to 10.</text>
<text x="33.70" y="95" textLength="102.58" lengthAdjust="spacingAndGlyphs" font-family='"Liberation Sans", sans-serif' font-size="15" font-weight="bold" fill="#111111" >41 clinics in 2012</text>
<text x="358.16" y="95" textLength="102.93" lengthAdjust="spacingAndGlyphs" font-family='"Liberation Sans", sans-serif' font-size="15" font-weight="bold" fill="#111111" >18 clinics in 2015</text>
<text x="689.11" y="95" textLength="220.78" lengthAdjust="spacingAndGlyphs" font-family='"Liberation Sans", sans-serif' font-size="15" font-weight="bold" fill="#111111" >10 clinics if the law is fully enacted</text>
<text x="72.50" y="199.6" textLength="45.17" lengthAdjust="spacingAndGlyphs" font-family='"Liberation Sans", sans-serif' font-size="12" font-weight="normal" fill="#2b2b2b" >Lubbock</text>
<text x="171.77" y="211.9" textLength="50.46" lengthAdjust="spacingAndGlyphs" font-family='"Liberation Sans", sans-serif' font-size="12" font-weight="normal" fill="#2b2b2b" >Ft. Worth</text>
<text x="227.48" y="209.1" textLength="33.88" lengthAdjust="spacingAndGlyphs" font-family='"Liberation Sans", sans-serif' font-size="12" font-weight="normal" fill="#2b2b2b" >Dallas</text>
<text x="1.30" y="233.9" textLength="37.12" lengthAdjust="spacingAndGlyphs" font-family='"Liberation Sans", sans-serif' font-size="12" font-weight="normal" fill="#2b2b2b" >El Paso</text>
<text x="102.89" y="232.1" textLength="46.65" lengthAdjust="spacingAndGlyphs" font-family='"Liberation Sans", sans-serif' font-size="12" font-weight="normal" fill="#2b2b2b" >Midland</text>
<text x="236.00" y="244.7" textLength="29.83" lengthAdjust="spacingAndGlyphs" font-family='"Liberation Sans", sans-serif' font-size="12" font-weight="normal" fill="#2b2b2b" >Waco</text>
<text x="131.49" y="252.2" textLength="61.80" lengthAdjust="spacingAndGlyphs" font-family='"Liberation Sans", sans-serif' font-size="12" font-weight="normal" fill="#2b2b2b" >San Angelo</text>
<text x="178.35" y="267.75" textLength="37.73" lengthAdjust="spacingAndGlyphs" font-family='"Liberation Sans", sans-serif' font-size="12" font-weight="normal" fill="#2b2b2b" >Killeen</text>
<text x="246.00" y="267.6" textLength="81.29" lengthAdjust="spacingAndGlyphs" font-family='"Liberation Sans", sans-serif' font-size="12" font-weight="normal" fill="#2b2b2b" >College Station</text>
<text x="170.90" y="285.9" textLength="34.27" lengthAdjust="spacingAndGlyphs" font-family='"Liberation Sans", sans-serif' font-size="12" font-weight="normal" fill="#2b2b2b" >Austin</text>
<text x="298.57" y="300" textLength="56.12" lengthAdjust="spacingAndGlyphs" font-family='"Liberation Sans", sans-serif' font-size="12" font-weight="normal" fill="#2b2b2b" >Beaumont</text>
<text x="123.57" y="308.85" textLength="66.58" lengthAdjust="spacingAndGlyphs" font-family='"Liberation Sans", sans-serif' font-size="12" font-weight="normal" fill="#2b2b2b" >San Antonio</text>
<text x="252.93" y="320.9" textLength="47.72" lengthAdjust="spacingAndGlyphs" font-family='"Liberation Sans", sans-serif' font-size="12" font-weight="normal" fill="#2b2b2b" >Houston</text>
<text x="233.40" y="346.8" textLength="76.03" lengthAdjust="spacingAndGlyphs" font-family='"Liberation Sans", sans-serif' font-size="12" font-weight="normal" fill="#2b2b2b" >Corpus Christi</text>
<text x="150.64" y="396.3" textLength="45.08" lengthAdjust="spacingAndGlyphs" font-family='"Liberation Sans", sans-serif' font-size="12" font-weight="normal" fill="#2b2b2b" >McAllen</text>
<text x="227.24" y="399.2" textLength="54.46" lengthAdjust="spacingAndGlyphs" font-family='"Liberation Sans", sans-serif' font-size="12" font-weight="normal" fill="#2b2b2b" >Harlingen</text>
<text x="331.90" y="233.4" textLength="37.43" lengthAdjust="spacingAndGlyphs" font-family='"Liberation Sans", sans-serif' font-size="12" font-weight="normal" fill="#2b2b2b" >El Paso</text>
<text x="502.08" y="211.5" textLength="50.30" lengthAdjust="spacingAndGlyphs" font-family='"Liberation Sans", sans-serif' font-size="12" font-weight="normal" fill="#2b2b2b" >Ft. Worth</text>
<text x="558.38" y="208.5" textLength="33.88" lengthAdjust="spacingAndGlyphs" font-family='"Liberation Sans", sans-serif' font-size="12" font-weight="normal" fill="#2b2b2b" >Dallas</text>
<text x="501.25" y="285.6" textLength="34.72" lengthAdjust="spacingAndGlyphs" font-family='"Liberation Sans", sans-serif' font-size="12" font-weight="normal" fill="#2b2b2b" >Austin</text>
<text x="452.27" y="308.5" textLength="66.79" lengthAdjust="spacingAndGlyphs" font-family='"Liberation Sans", sans-serif' font-size="12" font-weight="normal" fill="#2b2b2b" >San Antonio</text>
<text x="585.66" y="314.8" textLength="46.57" lengthAdjust="spacingAndGlyphs" font-family='"Liberation Sans", sans-serif' font-size="12" font-weight="normal" fill="#2b2b2b" >Houston</text>
<text x="481.25" y="396" textLength="44.67" lengthAdjust="spacingAndGlyphs" font-family='"Liberation Sans", sans-serif' font-size="12" font-weight="normal" fill="#2b2b2b" >McAllen</text>
<text x="819.58" y="211.5" textLength="50.30" lengthAdjust="spacingAndGlyphs" font-family='"Liberation Sans", sans-serif' font-size="12" font-weight="normal" fill="#2b2b2b" >Ft. Worth</text>
<text x="875.88" y="208.5" textLength="33.88" lengthAdjust="spacingAndGlyphs" font-family='"Liberation Sans", sans-serif' font-size="12" font-weight="normal" fill="#2b2b2b" >Dallas</text>
<text x="819.00" y="285.6" textLength="34.67" lengthAdjust="spacingAndGlyphs" font-family='"Liberation Sans", sans-serif' font-size="12" font-weight="normal" fill="#2b2b2b" >Austin</text>
<text x="769.37" y="308.5" textLength="66.79" lengthAdjust="spacingAndGlyphs" font-family='"Liberation Sans", sans-serif' font-size="12" font-weight="normal" fill="#2b2b2b" >San Antonio</text>
<text x="902.69" y="306.5" textLength="47.25" lengthAdjust="spacingAndGlyphs" font-family='"Liberation Sans", sans-serif' font-size="12" font-weight="normal" fill="#2b2b2b" >Houston</text>
<text x="858.65" y="396" textLength="44.98" lengthAdjust="spacingAndGlyphs" font-family='"Liberation Sans", sans-serif' font-size="12" font-weight="normal" fill="#2b2b2b" >McAllen</text>
<text x="656.30" y="384" textLength="50.29" lengthAdjust="spacingAndGlyphs" font-family='"Liberation Sans", sans-serif' font-size="15" font-weight="normal" fill="#161616" >El Paso,</text>
<text x="656.14" y="401.8" textLength="73.71" lengthAdjust="spacingAndGlyphs" font-family='"Liberation Sans", sans-serif' font-size="15" font-weight="normal" fill="#161616" >population</text>
<text x="656.13" y="419.8" textLength="108.97" lengthAdjust="spacingAndGlyphs" font-family='"Liberation Sans", sans-serif' font-size="15" font-weight="normal" fill="#161616" >680,000, would</text>
<text x="656.17" y="437.8" textLength="100.56" lengthAdjust="spacingAndGlyphs" font-family='"Liberation Sans", sans-serif' font-size="15" font-weight="normal" fill="#161616" >be the nation’s</text>
<text x="656.18" y="456" textLength="73.12" lengthAdjust="spacingAndGlyphs" font-family='"Liberation Sans", sans-serif' font-size="15" font-weight="normal" fill="#161616" >largest city</text>
<text x="657.20" y="473.9" textLength="107.52" lengthAdjust="spacingAndGlyphs" font-family='"Liberation Sans", sans-serif' font-size="15" font-weight="normal" fill="#161616" >without a single</text>
<text x="657.20" y="491.5" textLength="38.77" lengthAdjust="spacingAndGlyphs" font-family='"Liberation Sans", sans-serif' font-size="15" font-weight="normal" fill="#161616" >clinic.</text>
<text x="796.00" y="487.6" textLength="123.45" lengthAdjust="spacingAndGlyphs" font-family='"Liberation Sans", sans-serif' font-size="15" font-weight="normal" fill="#161616" >There would be no</text>
<text x="796.00" y="505.6" textLength="123.28" lengthAdjust="spacingAndGlyphs" font-family='"Liberation Sans", sans-serif' font-size="15" font-weight="normal" fill="#161616" >abortion providers</text>
<text x="795.01" y="523.8" textLength="104.25" lengthAdjust="spacingAndGlyphs" font-family='"Liberation Sans", sans-serif' font-size="15" font-weight="normal" fill="#161616" >in the 597 miles</text>
<text x="795.00" y="541.8" textLength="87.99" lengthAdjust="spacingAndGlyphs" font-family='"Liberation Sans", sans-serif' font-size="15" font-weight="normal" fill="#161616" >between San</text>
<text x="796.00" y="560" textLength="83.02" lengthAdjust="spacingAndGlyphs" font-family='"Liberation Sans", sans-serif' font-size="15" font-weight="normal" fill="#161616" >Antonio and</text>
<text x="795.07" y="578" textLength="74.09" lengthAdjust="spacingAndGlyphs" font-family='"Liberation Sans", sans-serif' font-size="15" font-weight="normal" fill="#161616" >Las Cruces,</text>
<text x="794.98" y="595.7" textLength="87.90" lengthAdjust="spacingAndGlyphs" font-family='"Liberation Sans", sans-serif' font-size="15" font-weight="normal" fill="#161616" >New Mexico.</text>
<text x="1.58" y="441.5" textLength="111.55" lengthAdjust="spacingAndGlyphs" font-family='"Liberation Sans", sans-serif' font-size="15" font-weight="bold" fill="#111111" >If HB 2 is upheld,</text>
<text x="115.98" y="441.5" textLength="369.97" lengthAdjust="spacingAndGlyphs" font-family='"Liberation Sans", sans-serif' font-size="15" font-weight="normal" fill="#161616" >here’s how far Texas women of childbearing age would</text>
<text x="1.48" y="460" textLength="290.43" lengthAdjust="spacingAndGlyphs" font-family='"Liberation Sans", sans-serif' font-size="15" font-weight="normal" fill="#161616" >have to travel to the nearest abortion clinic.</text>
<text x="8.00" y="495" textLength="101.75" lengthAdjust="spacingAndGlyphs" font-family='"Liberation Sans", sans-serif' font-size="12.2" font-weight="bold" fill="#f4f1ea" stroke="#f4f1ea" stroke-width="0.3">More than 50 miles</text>
<text x="145.00" y="530" textLength="108.48" lengthAdjust="spacingAndGlyphs" font-family='"Liberation Sans", sans-serif' font-size="12.2" font-weight="bold" fill="#f4f1ea" stroke="#f4f1ea" stroke-width="0.3">More than 100 miles</text>
<text x="430.50" y="566" textLength="110.49" lengthAdjust="spacingAndGlyphs" font-family='"Liberation Sans", sans-serif' font-size="12.2" font-weight="bold" fill="#f4f1ea" stroke="#f4f1ea" stroke-width="0.3">More than 200 miles</text>
<text x="152.00" y="500" textLength="57.56" lengthAdjust="spacingAndGlyphs" font-family='"Liberation Sans", sans-serif' font-size="23" font-weight="bold" fill="#b71a73" stroke="#b71a73" stroke-width="0.6">36%</text>
<text x="295.00" y="532.5" textLength="56.06" lengthAdjust="spacingAndGlyphs" font-family='"Liberation Sans", sans-serif' font-size="23" font-weight="bold" fill="#b71a73" stroke="#b71a73" stroke-width="0.6">24%</text>
<text x="580.85" y="571" textLength="52.95" lengthAdjust="spacingAndGlyphs" font-family='"Liberation Sans", sans-serif' font-size="23" font-weight="bold" fill="#b71a73" stroke="#b71a73" stroke-width="0.6">14%</text>
<text x="138.30" y="600" textLength="13.16" lengthAdjust="spacingAndGlyphs" font-family='"Liberation Sans", sans-serif' font-size="12.3" font-weight="bold" fill="#111111" stroke="#111111" stroke-width="0.25">50</text>
<text x="278.75" y="600" textLength="19.25" lengthAdjust="spacingAndGlyphs" font-family='"Liberation Sans", sans-serif' font-size="12.3" font-weight="bold" fill="#111111" stroke="#111111" stroke-width="0.25">100</text>
<text x="423.50" y="600" textLength="17.55" lengthAdjust="spacingAndGlyphs" font-family='"Liberation Sans", sans-serif' font-size="12.3" font-weight="bold" fill="#111111" stroke="#111111" stroke-width="0.25">150</text>
<text x="564.60" y="600" textLength="20.94" lengthAdjust="spacingAndGlyphs" font-family='"Liberation Sans", sans-serif' font-size="12.3" font-weight="bold" fill="#111111" stroke="#111111" stroke-width="0.25">200</text>
<text x="508.04" y="643.75" textLength="321.45" lengthAdjust="spacingAndGlyphs" font-family='"Liberation Sans", sans-serif' font-size="12.3" font-weight="normal" fill="#333333" >Sources: Fund Texas Choice, Texas Policy Evaluation Project</text>
<text x="839.12" y="643.2" textLength="66.69" lengthAdjust="spacingAndGlyphs" font-family='"Liberation Serif", serif' font-size="21" font-weight="normal" fill="#8e8e8e" >Mother</text>
<text x="908.50" y="643.2" textLength="47.59" lengthAdjust="spacingAndGlyphs" font-family='"Liberation Serif", serif' font-size="21" font-weight="normal" fill="#8e8e8e" >Jones</text>
</svg>
</body></html>
